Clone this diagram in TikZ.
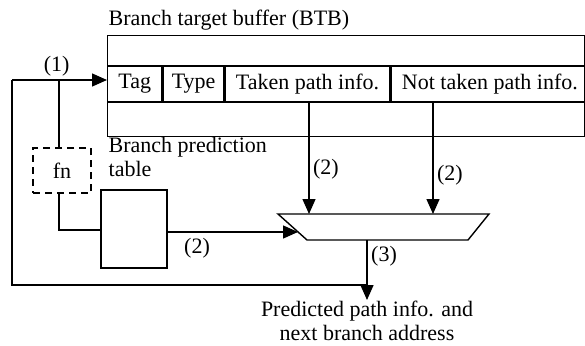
\documentclass[tikz,border=0pt]{standalone}
\usepackage{fontspec}
\setmainfont{Liberation Serif}
\usepackage{tikz}
\usetikzlibrary{arrows.meta,positioning,calc}

\begin{document}
\begin{tikzpicture}[
    x=1pt, y=-1pt,
    font=\fontsize{22}{24}\selectfont,
    every path/.style={line width=1.4pt},
    cell/.style={rectangle, draw, minimum height=36, inner sep=0, anchor=west},
    block/.style={rectangle, draw, inner sep=0},
    line/.style={draw, -{Triangle[length=15pt,width=13pt]}},
    wire/.style={draw}
]
\useasboundingbox (0,0) rectangle (585,345);

% BTB
\node [block, minimum width=477, minimum height=101, anchor=north west] (btb) at (107,35) {};
\node [anchor=base west, inner sep=0] (title) at (108,26) {Branch target buffer (BTB)};
\node [cell, minimum width=54] (tag) at (107,84) {Tag};
\node [cell, minimum width=61] (type) at (tag.east) {Type};
\node [cell, minimum width=164] (taken) at (type.east) {Taken path info.};
\node [cell, minimum width=198] (nottaken) at (taken.east) {Not taken path info.};

% hash and prediction table
\node [block, dash pattern=on 7pt off 5pt, minimum width=58, minimum height=45] (fn) at (62,170.5) {fn};
\node [block, minimum width=66, minimum height=78] (table) at (134,229) {};
\node [anchor=north west, align=left, inner sep=0] (tlabel) at (108,137) {Branch prediction\\table};

% selector
\coordinate (mtl) at (278,214);
\coordinate (mtr) at (489,214);
\coordinate (mbr) at (468,240);
\coordinate (mbl) at (307,240);
\draw (mtl) -- (mtr) -- (mbr) -- (mbl) -- cycle;
\coordinate (mux) at (367,240);

\node [align=center, inner sep=0, anchor=north] (out) at (367,300) {Predicted path info. and\\next branch address};

\coordinate (pc) at (12,80);
\coordinate (tap) at (59,80);
\coordinate (loop) at (12,285);
\coordinate (join) at (367,285);

\path [line] (pc) -- node[above, pos=0.47] {(1)} (btb.west |- pc);
\path [wire] (tap) -- (fn.north -| tap);
\path [wire] (fn.south -| tap) |- ($(table.west)+(0,1)$);
\path [line] (table.east |- 0,232) -- (298,232);
\path [line] (taken.south -| 309,0) -- node[right, pos=0.6] {(2)} (309,214);
\path [line] (nottaken.south -| 433,0) -- node[right, pos=0.65] {(2)} (433,214);
\path [line] (mux) -- (out.north);
\path [wire] (join) -- (loop) -- (pc);

\node at (197,248) {(2)};
\node at (384,256) {(3)};

\end{tikzpicture}
\end{document}
